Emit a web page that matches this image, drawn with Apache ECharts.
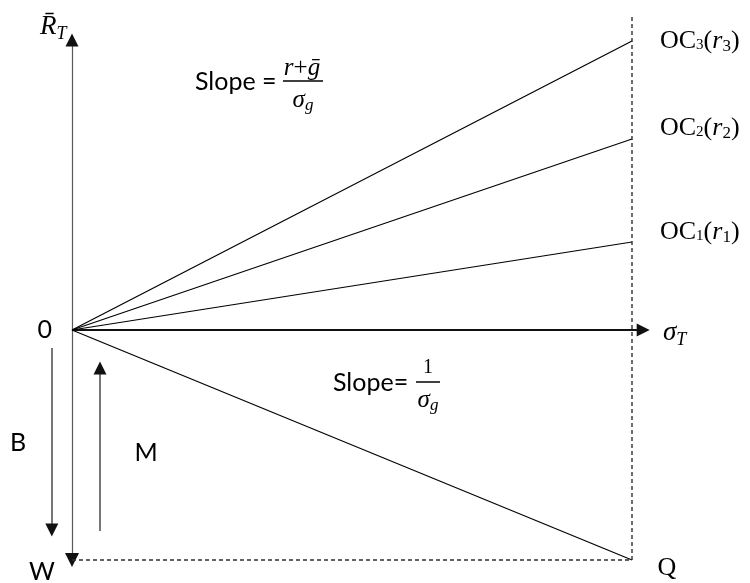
<!DOCTYPE html>
<html>
<head>
<meta charset="utf-8">
<script src="https://cdn.jsdelivr.net/npm/echarts@6/dist/echarts.min.js"></script>
<style>
html, body { margin: 0; padding: 0; background: #ffffff; }
#chart { width: 750px; height: 583px; }
</style>
</head>
<body>
<div id="chart"></div>
<script>
const sigmaHorizon = 10;
// Opportunity curves OC1..OC3 and their expected return at the horizon
const ocIndex = ['1', '2', '3'];
const ocReturnAtHorizon = [8.8, 19.1, 28.9];
// Terminal wealth floor W, reached at Q
const wealthFloor = -23;
// Axis extents
const returnAxisTop = 29;
const riskAxisEnd = 10.2;
const guideTop = 31.6;
// Borrowing (B) and margin (M) arrows
const borrowArrow = [[-0.36, -1.8], [-0.36, -20]];
const marginArrow = [[0.5, -20.1], [0.5, -3.8]];

// Vertical nudges for the curve labels (pixels)
const ocLabelNudge = [-10, -11, 0];

const SERIF = '"Liberation Serif", "DejaVu Serif", serif';
const SANS = 'Lato, "Open Sans", sans-serif';

const chart = echarts.init(document.getElementById('chart'), null, { renderer: 'canvas' });

const ocRich = {
  oc: { fontFamily: SERIF, fontSize: 26, color: '#000', lineHeight: 32, verticalAlign: 'middle' },
  sub: { fontFamily: SERIF, fontSize: 15, color: '#000', lineHeight: 32, verticalAlign: 'bottom', padding: [0, 0, 4, 0] },
  it: { fontFamily: SERIF, fontStyle: 'italic', fontSize: 26, color: '#000', lineHeight: 32, verticalAlign: 'middle' },
  msub: { fontFamily: SERIF, fontSize: 17, color: '#000', lineHeight: 32, verticalAlign: 'bottom', padding: [0, 0, 2, 0] }
};

const series = [];

ocIndex.forEach(function (k, i) {
  series.push({
    name: 'OC' + k,
    type: 'line',
    data: [[0, 0], [sigmaHorizon, ocReturnAtHorizon[i]]],
    symbol: 'none',
    silent: true,
    animation: false,
    lineStyle: { color: '#000000', width: 1.2 },
    endLabel: {
      show: true,
      distance: 28,
      offset: [0, ocLabelNudge[i]],
      formatter: '{oc|OC}{sub|' + k + '}{oc|(}{it|r}{msub|' + k + '}{oc|)}',
      rich: ocRich
    }
  });
});

// Line from the origin down to Q
series.push({
  type: 'line',
  data: [[0, 0], [sigmaHorizon, wealthFloor]],
  symbol: 'none',
  silent: true,
  animation: false,
  lineStyle: { color: '#000000', width: 1.2 }
});

// Dashed guides through Q
series.push({
  type: 'line',
  data: [[sigmaHorizon, wealthFloor], [sigmaHorizon, guideTop]],
  symbol: 'none', silent: true, animation: false,
  lineStyle: { color: '#2e2e2e', width: 1.4, type: [4, 3] }
});
series.push({
  type: 'line',
  data: [[0, wealthFloor], [sigmaHorizon, wealthFloor]],
  symbol: 'none', silent: true, animation: false,
  lineStyle: { color: '#2e2e2e', width: 1.4, type: [4, 3] }
});

// Arrow shafts
const shafts = [
  { coords: [[0, wealthFloor], [0, returnAxisTop]], lineStyle: { color: '#5a5a5a', width: 1.2, opacity: 1 } },
  { coords: [[0, 0], [riskAxisEnd, 0]], lineStyle: { color: '#111111', width: 2, opacity: 1 } },
  { coords: borrowArrow, lineStyle: { color: '#555555', width: 1.6, opacity: 1 } },
  { coords: marginArrow, lineStyle: { color: '#555555', width: 1.6, opacity: 1 } }
];
series.push({
  type: 'lines',
  coordinateSystem: 'cartesian2d',
  silent: true,
  animation: false,
  symbol: 'none',
  data: shafts
});

// Arrow heads (same paths, solid black triangles at the ends)
series.push({
  type: 'lines',
  coordinateSystem: 'cartesian2d',
  silent: true,
  animation: false,
  symbolSize: [14, 13],
  lineStyle: { color: '#111111', width: 0, opacity: 1 },
  data: [
    { coords: [[0, wealthFloor], [0, returnAxisTop]], symbol: ['triangle', 'triangle'] },
    { coords: [[0, 0], [riskAxisEnd, 0]], symbol: ['none', 'triangle'] },
    { coords: borrowArrow, symbol: ['none', 'triangle'] },
    { coords: marginArrow, symbol: ['none', 'triangle'] }
  ]
});

function txt(x, y, text, font, align) {
  return {
    type: 'text', x: x, y: y, silent: true,
    style: { text: text, font: font, fill: '#000', textAlign: align || 'center', textVerticalAlign: 'middle' }
  };
}
function bar(x1, x2, y) {
  return { type: 'line', silent: true, shape: { x1: x1, y1: y, x2: x2, y2: y }, style: { stroke: '#000', lineWidth: 1.5 } };
}
function richTxt(x, y, text, rich, align) {
  return {
    type: 'text', x: x, y: y, silent: true,
    style: { text: text, rich: rich, fill: '#000', textAlign: align || 'center', textVerticalAlign: 'middle' }
  };
}

const mathRich = {
  it: { fontFamily: SERIF, fontStyle: 'italic', fontSize: 25, fill: '#000', lineHeight: 28, verticalAlign: 'middle' },
  rm: { fontFamily: SERIF, fontSize: 25, fill: '#000', lineHeight: 28, verticalAlign: 'middle' },
  sub: { fontFamily: SERIF, fontStyle: 'italic', fontSize: 17, fill: '#000', lineHeight: 28, verticalAlign: 'bottom' },
  big: { fontFamily: SERIF, fontStyle: 'italic', fontSize: 27, fill: '#000', lineHeight: 32, verticalAlign: 'middle' },
  bigsub: { fontFamily: SERIF, fontStyle: 'italic', fontSize: 18, fill: '#000', lineHeight: 32, verticalAlign: 'bottom' }
};

const graphics = [
  // axis titles
  richTxt(40, 27, '{big|R\u0304}{bigsub|T}', mathRich, 'left'),
  richTxt(663, 333, '{big|\u03C3}{bigsub|T}', mathRich, 'left'),
  // point labels
  txt(52, 330, '0', '25px ' + SANS, 'right'),
  txt(18, 443, 'B', '25px ' + SANS),
  txt(146, 453, 'M', '25px ' + SANS),
  txt(42, 572, 'W', '25px ' + SANS),
  txt(667, 568, 'Q', '26px ' + SERIF),
  // upper slope annotation
  txt(195, 82, 'Slope =', '25px ' + SANS, 'left'),
  richTxt(302, 68, '{it|r}{rm|+}{it|g\u0304}', mathRich),
  bar(283, 323, 81),
  richTxt(303, 100, '{it|\u03C3}{sub|g}', mathRich),
  // lower slope annotation
  txt(333, 383, 'Slope=', '25px ' + SANS, 'left'),
  richTxt(428, 368, '{rm|1}', { rm: { fontFamily: SERIF, fontSize: 20, fill: '#000' } }),
  bar(416, 440, 382),
  richTxt(428, 400, '{it|\u03C3}{sub|g}', mathRich)
];

chart.setOption({
  animation: false,
  backgroundColor: '#ffffff',
  grid: { left: 16, right: 6, top: 0, bottom: 3, containLabel: false },
  xAxis: { type: 'value', min: -1, max: 12, show: false },
  yAxis: { type: 'value', min: -25, max: 33, show: false },
  series: series,
  graphic: graphics
});
</script>
</body>
</html>
